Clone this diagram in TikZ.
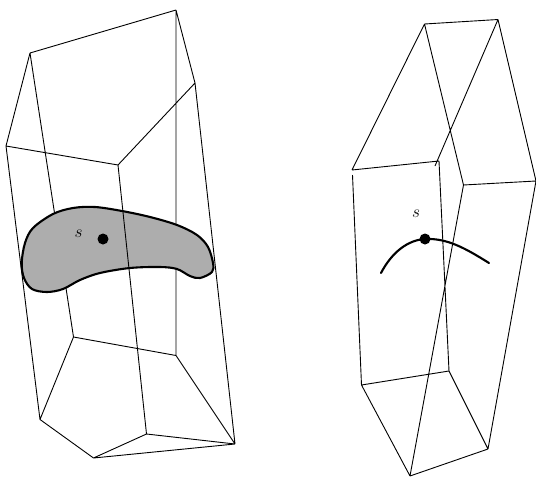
\documentclass[tikz,border=0pt]{standalone}
\begin{document}
\begin{tikzpicture}[x=1pt,y=-1pt,
  edge/.style={line width=0.9pt,black,line join=round},
  heavy/.style={line width=2.1pt,black,line cap=round},
  spot/.style={circle,fill=black,inner sep=0pt,minimum size=11pt},
  lbl/.style={inner sep=0pt,font=\LARGE}]
\useasboundingbox (0,0) rectangle (536,477);
% left solid
\coordinate (A) at (176,10);
\coordinate (B) at (30,53);
\coordinate (C) at (195,83);
\coordinate (D) at (6,146);
\coordinate (E) at (118,165);
\coordinate (F) at (73.5,337);
\coordinate (G) at (176,355.5);
\coordinate (H) at (40,419.5);
\coordinate (I) at (93.5,458);
\coordinate (J) at (146.5,434);
\coordinate (K) at (235,444);
\draw[edge] (A)--(B) (A)--(C) (B)--(D) (D)--(E) (E)--(C) (A)--(G) (B)--(F) (D)--(H) (C)--(K)
  (F)--(G) (F)--(H) (H)--(I) (I)--(J) (J)--(K) (I)--(K) (G)--(K);
\draw[heavy,fill=black!32,line join=round]
  plot[smooth cycle,tension=0.55] coordinates {(21.7,263) (25,243) (33,228) (53,214) (73,208) (95,207) (122,211) (150,217) (177,225) (197,235) (208,247) (213,263) (212,272) (200,278) (190,276) (177,269) (160,267) (130,268) (100,273) (80,280) (63,289) (47,292) (32,289) (24,278)};
\draw[edge] (E)--(J);
\node[spot] (p1) at (103,239) {};
\node[lbl] (s1) at (78.5,234) {$s$};
% right solid
\coordinate (a) at (424.5,24);
\coordinate (b) at (498,19.5);
\coordinate (c) at (352,170);
\coordinate (c2) at (352.5,175);
\coordinate (d) at (439,161);
\coordinate (d2) at (435,166);
\coordinate (e) at (463.5,185);
\coordinate (f) at (536,181);
\coordinate (g) at (361.5,385);
\coordinate (h) at (449,371);
\coordinate (i) at (410,476);
\coordinate (j) at (488,449);
\draw[edge] (a)--(b) (a)--(c) (b)--(d2) (a)--(e) (b)--(f) (c)--(d) (c2)--(g) (d)--(h) (e)--(f) (e)--(i) (f)--(j)
  (g)--(h) (g)--(i) (h)--(j) (i)--(j);
\coordinate (u) at (381,273);
\coordinate (v) at (489,263);
\node[spot] (p2) at (425,239) {};
\draw[heavy] (u) .. controls (392,252) and (408,240) .. (p2.center) .. controls (447,238) and (465,248) .. (v);
\node[lbl] (s2) at (416,214) {$s$};
\end{tikzpicture}
\end{document}
